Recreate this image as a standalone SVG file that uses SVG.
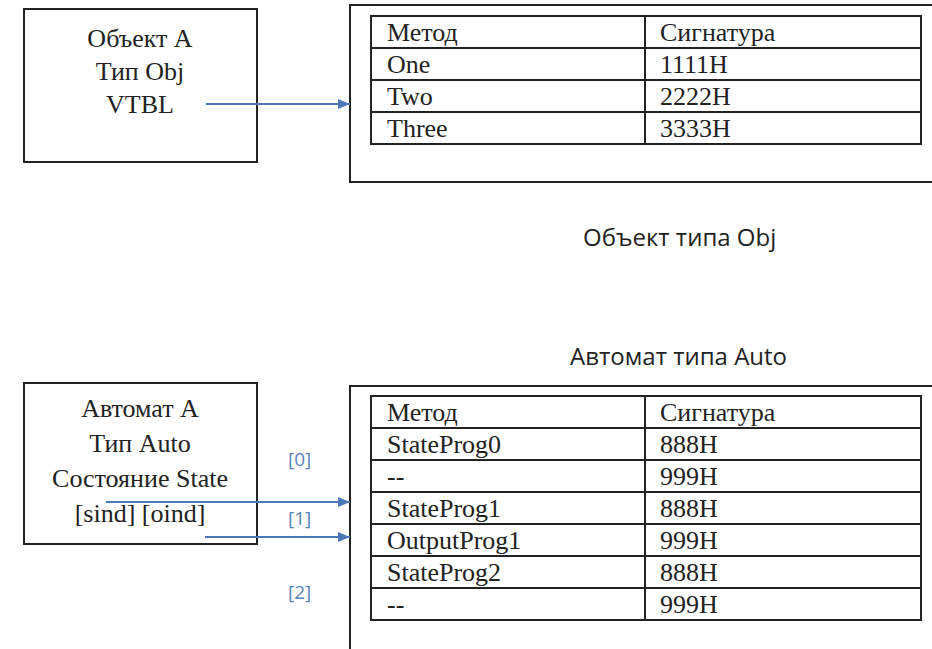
<svg xmlns="http://www.w3.org/2000/svg" width="932" height="649" viewBox="0 0 932 649">
<defs>
<style>
.bx{fill:none;stroke:#222;stroke-width:2}
.tb{fill:none;stroke:#222;stroke-width:2}
.t{font-family:"Liberation Serif",serif;font-size:26px;fill:#222}
.c{text-anchor:middle}
.s{font-family:"Open Sans","DejaVu Sans",sans-serif;font-size:24px;fill:#222}
.lb{font-family:"Open Sans","DejaVu Sans",sans-serif;font-size:19px;fill:#5b84bb}
.ar{stroke:#4a78b8;stroke-width:2;fill:none;marker-end:url(#ah)}
</style>
<marker id="ah" viewBox="0 0 12 10" refX="12" refY="5" markerWidth="12" markerHeight="10" markerUnits="userSpaceOnUse" orient="auto">
<path d="M0,0 L12,5 L0,10 Z" fill="#4a78b8"/>
</marker>
</defs>
<rect width="932" height="649" fill="#fff"/>

<g id="autoA">
<rect class="bx" x="24" y="383" width="233" height="161"/>
<text class="t c" x="140" y="417" style="font-family:'Liberation Serif',serif">Автомат А</text>
<text class="t c" x="140" y="452" style="font-family:'Liberation Serif',serif">Тип Auto</text>
<text class="t c" x="140" y="487" style="font-family:'Liberation Serif',serif">Состояние State</text>
<text class="t c" x="140" y="522" style="font-family:'Liberation Serif',serif">[sind] [oind]</text>
</g>

<g id="vtblAuto">
<rect class="bx" x="350" y="386" width="600" height="300"/>
<rect class="tb" x="371" y="396" width="550" height="224"/>
<path class="tb" d="M371,428H921M371,460H921M371,492H921M371,524H921M371,556H921M371,588H921M645,396V620"/>
<text class="t" x="387" y="421">Метод</text><text class="t" x="660" y="421">Сигнатура</text>
<text class="t" x="387" y="453">StateProg0</text><text class="t" x="660" y="453">888H</text>
<text class="t" x="387" y="485">--</text><text class="t" x="660" y="485">999H</text>
<text class="t" x="387" y="517">StateProg1</text><text class="t" x="660" y="517">888H</text>
<text class="t" x="387" y="549">OutputProg1</text><text class="t" x="660" y="549">999H</text>
<text class="t" x="387" y="581">StateProg2</text><text class="t" x="660" y="581">888H</text>
<text class="t" x="387" y="613">--</text><text class="t" x="660" y="613">999H</text>
</g>

<g id="objA">
<rect class="bx" x="24" y="9" width="233" height="153"/>
<text class="t c" x="140" y="47" style="font-family:'Liberation Serif',serif">Объект А</text>
<text class="t c" x="140" y="80" style="font-family:'Liberation Serif',serif">Тип Obj</text>
<text class="t c" x="140" y="113" style="font-family:'Liberation Serif',serif">VTBL</text>
</g>

<g id="vtblObj">
<rect class="bx" x="350" y="5" width="600" height="177"/>
<rect class="tb" x="371" y="16" width="550" height="128"/>
<path class="tb" d="M371,48H921M371,80H921M371,112H921M645,16V144"/>
<text class="t" x="387" y="41" style="font-family:'Liberation Serif',serif">Метод</text><text class="t" x="660" y="41">Сигнатура</text>
<text class="t" x="387" y="73" style="font-family:'Liberation Serif',serif">One</text><text class="t" x="660" y="73">1111H</text>
<text class="t" x="387" y="105" style="font-family:'Liberation Serif',serif">Two</text><text class="t" x="660" y="105">2222H</text>
<text class="t" x="387" y="137" style="font-family:'Liberation Serif',serif">Three</text><text class="t" x="660" y="137">3333H</text>
</g>

<text class="s" x="583" y="246">Объект типа Obj</text>
<text class="s" x="570" y="365">Автомат типа Auto</text>

<g id="connectors">
<line class="ar" x1="206" y1="104" x2="350" y2="104"/>
<line class="ar" x1="106" y1="502" x2="350" y2="502"/>
<line class="ar" x1="205" y1="537" x2="350" y2="537"/>
</g>
<text class="lb" x="288" y="466">[0]</text>
<text class="lb" x="288" y="525">[1]</text>
<text class="lb" x="288" y="599">[2]</text>
</svg>
